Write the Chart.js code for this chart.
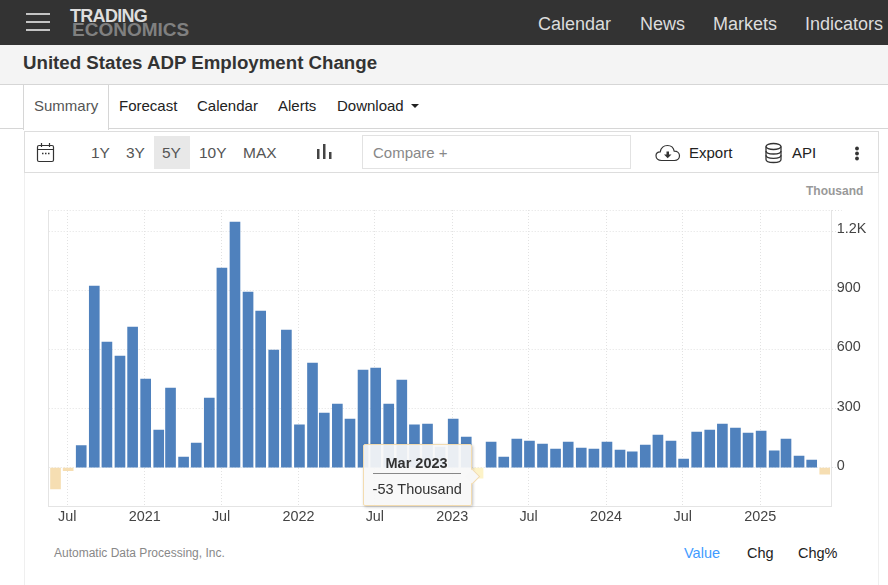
<!DOCTYPE html>
<html>
<head>
<meta charset="utf-8">
<title>United States ADP Employment Change</title>
<script src="https://cdn.jsdelivr.net/npm/chart.js@4/dist/chart.umd.min.js"></script>
<style>
  html, body { margin: 0; padding: 0; background: #fff; }
  body { width: 888px; height: 585px; overflow: hidden; position: relative; font-family: "Liberation Sans", Arial, sans-serif; }
  .box { position: absolute; box-sizing: border-box; }
  .t { position: absolute; white-space: nowrap; line-height: 20px; height: 20px; }
  .nav { color: #dcdcdc; font-size: 18px; top: 14px; }
  .tab { color: #222; font-size: 15px; top: 96px; }
  .range { color: #555; font-size: 15.5px; top: 143px; }
  .act { color: #222; font-size: 15px; top: 143px; }
  svg { position: absolute; }
  #chartWrap { position: absolute; left: 40px; top: 200px; width: 848px; height: 340px; }
  #tip { position: absolute; box-sizing: border-box; width: 109px; height: 62px; background: rgba(247,247,247,0.92);
    border: 1px solid #f3dcb0; border-radius: 2px; box-shadow: 1px 1px 3px rgba(0,0,0,0.25); color: #333; font-size: 14.5px; display: none; }
  #tip .ttl { position: absolute; left: 9px; right: 10px; top: 8px; height: 20px; line-height: 20px; text-align: center; font-weight: bold; border-bottom: 1px solid #888; padding-bottom: 0; }
  #tip .val { position: absolute; left: 9px; right: 0; top: 34px; line-height: 20px; white-space: nowrap; }
  #tip .arrow { position: absolute; right: -7px; top: 26px; width: 11px; height: 11px; background: #f7f7f7;
    border-top: 1px solid #f3dcb0; border-right: 1px solid #f3dcb0; transform: rotate(45deg) scaleX(1); box-sizing: border-box; }
</style>
</head>
<body>
<!-- header -->
<div class="box" style="left:0;top:0;width:888px;height:45px;background:#333"></div>
<div class="box" style="left:26px;top:13px;width:24px;height:2px;background:#c4c4c4"></div>
<div class="box" style="left:26px;top:21px;width:24px;height:2px;background:#c4c4c4"></div>
<div class="box" style="left:26px;top:29px;width:24px;height:2px;background:#c4c4c4"></div>
<div class="t" style="left:70px;top:6px;color:#dedede;font-size:18px;font-weight:bold;letter-spacing:-0.7px">TRADING</div>
<div class="t" style="left:72px;top:20px;color:#808080;font-size:19px;font-weight:bold">ECONOMICS</div>
<div class="t nav" style="left:538px">Calendar</div>
<div class="t nav" style="left:640px">News</div>
<div class="t nav" style="left:713px">Markets</div>
<div class="t nav" style="left:805px">Indicators</div>

<!-- title strip -->
<div class="box" style="left:0;top:45px;width:888px;height:40px;background:#f4f4f4;border-bottom:1px solid #d6d6d6"></div>
<div class="t" style="left:23px;top:53px;color:#333;font-size:18.7px;font-weight:bold">United States ADP Employment Change</div>

<!-- tabs -->
<div class="box" style="left:0;top:128px;width:888px;height:1px;background:#d6d6d6"></div>
<div class="box" style="left:23px;top:85px;width:86px;height:45px;background:#fff;border:1px solid #d6d6d6;border-top:none;border-bottom:none"></div>
<div class="t tab" style="left:34px;color:#555">Summary</div>
<div class="t tab" style="left:119px">Forecast</div>
<div class="t tab" style="left:197px">Calendar</div>
<div class="t tab" style="left:278px">Alerts</div>
<div class="t tab" style="left:337px">Download</div>
<svg style="left:411px;top:104px" width="9" height="5"><path d="M0 0H8L4 4Z" fill="#222"/></svg>

<!-- toolbar -->
<div class="box" style="left:24px;top:131px;width:855px;height:42px;border:1px solid #ddd"></div>
<div class="box" style="left:24px;top:173px;width:855px;height:412px;border:1px solid #efefef;border-top:none;border-bottom:none"></div>
<svg style="left:36px;top:142px" width="20" height="21" viewBox="0 0 20 21" fill="none" stroke="#333" stroke-width="1.2">
  <rect x="1.5" y="3.5" width="16" height="16" rx="1.5"/>
  <path d="M1.5 7.5H17.5M5.5 1V5M13.5 1V5"/>
  <path d="M6 11.5H7.5M9 11.5H10.5M12 11.5H13.5" stroke-width="1.4"/>
</svg>
<div class="box" style="left:154px;top:136px;width:36px;height:33px;background:#e8e8e8"></div>
<div class="t range" style="left:91px">1Y</div>
<div class="t range" style="left:126px">3Y</div>
<div class="t range" style="left:162px">5Y</div>
<div class="t range" style="left:199px">10Y</div>
<div class="t range" style="left:243px">MAX</div>
<svg style="left:316px;top:143px" width="16" height="17" fill="#444">
  <rect x="1" y="6" width="2.5" height="10"/><rect x="7" y="1" width="2.5" height="15"/><rect x="13" y="9" width="2.5" height="7"/>
</svg>
<div class="box" style="left:362px;top:135px;width:269px;height:34px;border:1px solid #e2e2e2"></div>
<div class="t" style="left:373px;top:143px;color:#888;font-size:15px">Compare +</div>
<svg style="left:655px;top:143px" width="26" height="20" viewBox="0 0 26 20">
  <path d="M6.5 17.5C3 17.5 1 15.2 1 12.8C1 10.3 3 8.8 5.2 8.8C6 5 9 2.5 12.5 2.5C16 2.5 18.6 5 19.2 8.2C22.3 8.2 24.5 10.2 24.5 12.8C24.5 15.4 22.5 17.5 19.5 17.5Z" fill="none" stroke="#333" stroke-width="1.2"/>
  <path d="M11.5 8.5H14V11.5H16.5L12.7 15.2L9 11.5H11.5Z" fill="#333"/>
</svg>
<div class="t act" style="left:689px">Export</div>
<svg style="left:764px;top:142px" width="19" height="22" viewBox="0 0 19 22" fill="none" stroke="#333" stroke-width="1.3">
  <ellipse cx="9.5" cy="4.5" rx="7.5" ry="3"/>
  <path d="M2 4.5V17.5C2 19.2 5.4 20.5 9.5 20.5C13.6 20.5 17 19.2 17 17.5V4.5"/>
  <path d="M2 9C2 10.7 5.4 12 9.5 12C13.6 12 17 10.7 17 9M2 13.3C2 15 5.4 16.3 9.5 16.3C13.6 16.3 17 15 17 13.3"/>
</svg>
<div class="t act" style="left:792px">API</div>
<svg style="left:854px;top:146px" width="6" height="16" fill="#333">
  <circle cx="3" cy="2.5" r="1.9"/><circle cx="3" cy="7.5" r="1.9"/><circle cx="3" cy="12.5" r="1.9"/>
</svg>

<div class="t" style="left:806px;top:181px;color:#999;font-size:12px;font-weight:bold">Thousand</div>

<div id="chartWrap"><canvas id="myChart"></canvas></div>
<div id="tip"><div class="ttl"></div><div class="val"></div><div class="arrow"></div></div>

<!-- footer -->
<div class="t" style="left:54px;top:543px;color:#888;font-size:12px">Automatic Data Processing, Inc.</div>
<div class="t" style="left:684px;top:543px;color:#3f9bff;font-size:14.5px">Value</div>
<div class="t" style="left:747px;top:543px;color:#222;font-size:14.5px">Chg</div>
<div class="t" style="left:798px;top:543px;color:#222;font-size:14.5px">Chg%</div>

<script>
const months = [
  "2020-06", "2020-07", "2020-08", "2020-09", "2020-10", "2020-11", "2020-12",
  "2021-01", "2021-02", "2021-03", "2021-04", "2021-05", "2021-06", "2021-07", "2021-08", "2021-09", "2021-10", "2021-11", "2021-12",
  "2022-01", "2022-02", "2022-03", "2022-04", "2022-05", "2022-06", "2022-07", "2022-08", "2022-09", "2022-10", "2022-11", "2022-12",
  "2023-01", "2023-02", "2023-03", "2023-04", "2023-05", "2023-06", "2023-07", "2023-08", "2023-09", "2023-10", "2023-11", "2023-12",
  "2024-01", "2024-02", "2024-03", "2024-04", "2024-05", "2024-06", "2024-07", "2024-08", "2024-09", "2024-10", "2024-11", "2024-12",
  "2025-01", "2025-02", "2025-03", "2025-04", "2025-05", "2025-06",
];
const values = [
  -108, -15, 112, 922, 638, 567, 714,
  450, 191, 404, 54, 125, 354, 1013, 1247, 892, 795, 597, 699,
  217, 531, 277, 323, 247, 496, 506, 323, 445, 217, 222, 105,
  247, 156, -53, 130, 54, 145, 135, 120, 95, 130, 100, 95,
  130, 90, 80, 115, 166, 135, 44, 181, 191, 222, 201, 176,
  186, 85, 145, 59, 39, -33,
];
const xTicks = ["2020-07", "2021-01", "2021-07", "2022-01", "2022-07", "2023-01", "2023-07", "2024-01", "2024-07", "2025-01"];
const yTicks = [0, 300, 600, 900, 1200];
const monthNames = ["Jan", "Feb", "Mar", "Apr", "May", "Jun", "Jul", "Aug", "Sep", "Oct", "Nov", "Dec"];
const activeMonth = "2023-03";
const unit = "Thousand";

const DAY = 86400000;
function monthTime(m, day) {
  const parts = m.split("-");
  return Date.UTC(+parts[0], +parts[1] - 1, day);
}
function monthName(m) {
  const parts = m.split("-");
  return monthNames[+parts[1] - 1] + " " + parts[0];
}

const gridColor = "#e2e2e2";
const axisColor = "#e4e4e4";
const tickFont = { family: "'Liberation Sans', Arial, sans-serif", size: 14.4 };
const points = months.map((m, i) => ({ x: monthTime(m, 3), y: values[i] }));

const ctx = document.getElementById("myChart");
const myChart = new Chart(ctx, {
  type: "bar",
  data: {
    datasets: [
      {
        data: points,
        backgroundColor: (c) => (c.raw && c.raw.y < 0 ? "#f6deb2" : "#4f81bd"),
        hoverBackgroundColor: (c) => (c.raw && c.raw.y < 0 ? "#fdf3c8" : "#4f81bd"),
        barThickness: 10,
      },
    ],
  },
  options: {
    responsive: true,
    maintainAspectRatio: false,
    animation: false,
    events: [],
    layout: { padding: { left: 8.7, top: 10, right: 0, bottom: 0 } },
    plugins: {
      legend: { display: false },
      title: { display: false },
      tooltip: {
        enabled: false,
        callbacks: {
          title: (items) => monthName(months[items[0].dataIndex]),
          label: (item) => item.parsed.y + " " + unit,
        },
        external: (c) => {
          const t = c.tooltip;
          const el = document.getElementById("tip");
          if (t.opacity === 0 || !t.title) {
            el.style.display = "none";
            return;
          }
          el.querySelector(".ttl").textContent = t.title[0];
          el.querySelector(".val").textContent = t.body[0].lines[0];
          el.style.display = "block";
          el.style.left = 40 + t.caretX - 115.5 + "px";
          el.style.top = 200 + t.caretY - 34 + "px";
        },
      },
    },
    scales: {
      x: {
        type: "linear",
        offset: false,
        min: Date.UTC(2020, 6, 1) - 44.2 * DAY,
        max: Date.UTC(2025, 0, 1) + 169.5 * DAY,
        afterBuildTicks: (s) => {
          s.ticks = xTicks.map((m) => ({ value: monthTime(m, 1) }));
        },
        afterFit: (s) => {
          s.height = 34;
        },
        grid: { color: gridColor, drawTicks: false, offset: false },
        border: { color: axisColor, dash: [1, 2] },
        ticks: {
          font: tickFont,
          color: "#444",
          padding: 2,
          maxRotation: 0,
          autoSkip: false,
          callback: (v) => {
            const d = new Date(v);
            return d.getUTCMonth() === 0 ? String(d.getUTCFullYear()) : "Jul";
          },
        },
      },
      y: {
        position: "right",
        min: -194.4,
        max: 1308,
        afterBuildTicks: (s) => {
          s.ticks = yTicks.concat(1308).map((v) => ({ value: v }));
        },
        afterFit: (s) => {
          s.width = 56.3;
        },
        grid: { color: gridColor, tickLength: 10, tickColor: gridColor, tickBorderDash: [1, 2] },
        border: { color: axisColor, dash: [1, 2] },
        ticks: {
          font: tickFont,
          color: "#444",
          padding: -5,
          labelOffset: -2,
          callback: (v) => {
            if (v === 1308) return "";
            return v >= 1000 ? v / 1000 + "K" : String(v);
          },
        },
      },
      yLeft: {
        position: "left",
        afterFit: (s) => {
          s.width = 0;
        },
        grid: { display: false },
        ticks: { display: false },
        border: { color: axisColor },
      },
    },
  },
});

const active = [{ datasetIndex: 0, index: months.indexOf(activeMonth) }];
myChart.setActiveElements(active);
myChart.tooltip.setActiveElements(active, { x: 0, y: 0 });
myChart.update();
</script>
</body>
</html>
